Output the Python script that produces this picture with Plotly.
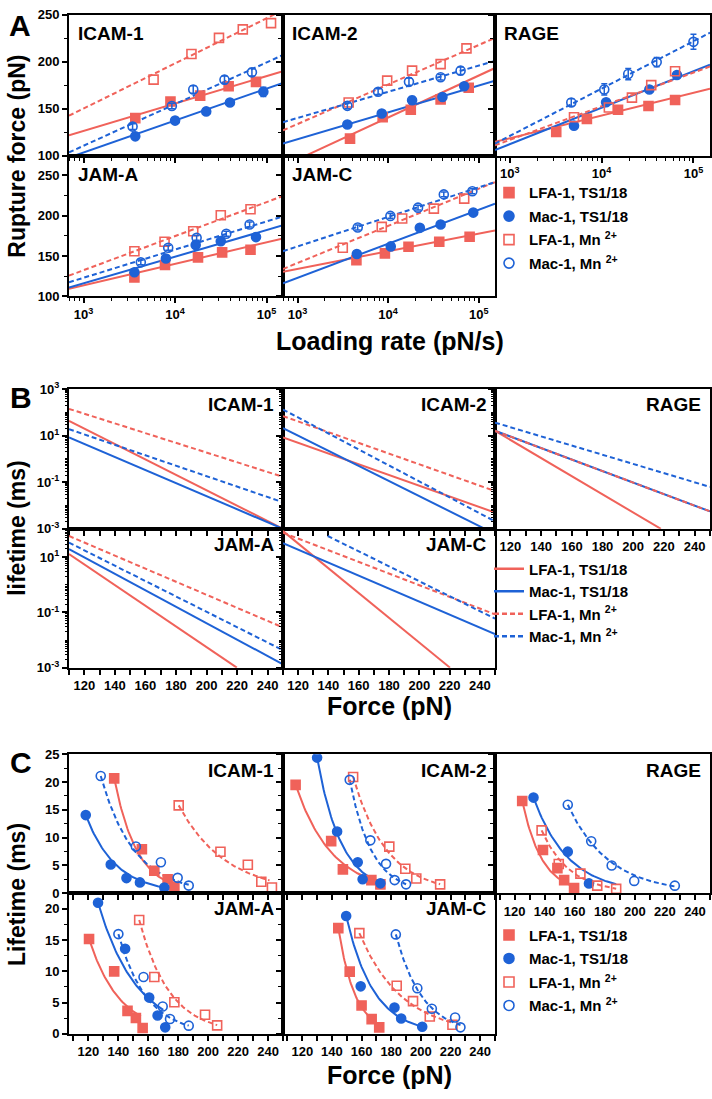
import numpy as np
import plotly.graph_objects as go

W, H = 712, 1099
RED = "#F0625A"
BLUE = "#1E62D6"
FONT = "Liberation Sans Narrow, Liberation Sans, Arial, sans-serif"

LIGANDS = ["ICAM-1", "ICAM-2", "RAGE", "JAM-A", "JAM-C"]
SERIES = ["LFA_TS", "MAC_TS", "LFA_MN", "MAC_MN"]
SERIES_NAMES = ["LFA-1, TS1/18", "Mac-1, TS1/18", "LFA-1, Mn <sup>2+</sup>", "Mac-1, Mn <sup>2+</sup>"]

# ---------------- Panel A: rupture force vs loading rate ----------------
A_RATE_LFA_TS = [[3670, 8900, 18800, 38500, 76700], [3800, 8710, 17800, 38000, 77600],
                 [3210, 6920, 15100, 32400, 63100], [3590, 7760, 17800, 32700, 66800],
                 [4470, 9220, 16800, 36700, 79400]]
A_FORCE_LFA_TS = [[140, 157.7, 164, 174, 178.7], [118.2, 141, 149, 160, 172.4],
                  [125.2, 139.2, 149, 153, 159.4], [123.4, 139, 148.4, 154.5, 157.8],
                  [144.7, 153.3, 161.5, 167.6, 173.8]]
A_RATE_MAC_TS = [[3670, 10000, 21900, 39800, 92300], [3550, 8510, 18400, 39800, 69200],
                 [5010, 11200, 33100, 66100], [3590, 7940, 16800, 31600, 76700],
                 [4520, 10700, 22400, 38000, 87100]]
A_FORCE_MAC_TS = [[120.6, 137.4, 147.2, 156.6, 168], [133.2, 145, 159, 162.6, 174],
                  [132, 157, 170.6, 186], [130, 147, 163.5, 168.4, 173.4],
                  [152.5, 161.9, 184.8, 189, 203.7]]
A_RATE_LFA_MN = [[5820, 15100, 30200, 55000, 112000], [3670, 9770, 18400, 38000, 73300],
                 [5010, 12000, 21400, 34700, 63100], [3590, 7670, 15800, 31600, 66800],
                 [3160, 8510, 14300, 32000, 69200]]
A_FORCE_LFA_MN = [[181, 208.4, 225.5, 234.6, 241.3], [156.6, 180, 190.6, 197.6, 214.3],
                  [141, 151.4, 161.9, 175.2, 190], [156, 167.6, 180.7, 200.4, 207.8],
                  [160.2, 186, 196.3, 208.6, 220.9]]
A_RATE_MAC_MN = [[3430, 9220, 15800, 34700, 69200], [3550, 7760, 17000, 38000, 63100],
                 [4680, 10700, 19500, 39800, 100000], [4220, 8410, 17200, 36300, 65300],
                 [4620, 10600, 21400, 41200, 85100]]
A_FORCE_MAC_MN = [[131, 153, 170.6, 181, 188.8], [153.1, 168.2, 178.7, 183.6, 190.6],
                  [156.6, 170.6, 187, 199.7, 221.3], [142.2, 160.2, 172.5, 177.5, 189],
                  [185.2, 199.6, 209.8, 226.2, 230]]
A_ERR_MAC_TS = [[2, 2, 3, 3, 5], [3, 3, 4, 3, 3], [3, 3, 3, 3], [2, 3, 3, 3, 3], [2, 2, 3, 3, 3]]
A_ERR_MAC_MN = [[3, 3, 4, 4, 4], [3, 3, 4, 3, 4], [4, 6, 6, 5, 8], [3, 3, 3, 3, 3], [3, 3, 3, 3, 3]]
# fitted lines: force at the low and high end of the loading-rate axis
A_FIT_RATE = [10 ** 2.84, 10 ** 5.18]
A_FIT_LFA_TS = [(121.7, 190), (88.8, 193.4), (114.7, 171.3), (109.4, 171.7), (130.7, 181.6)]
A_FIT_MAC_TS = [(98, 177.6), (113, 180), (106, 197), (111, 188), (116.4, 214.8)]
A_FIT_LFA_MN = [(142.6, 255), (127, 225.5), (111, 195), (125.8, 224.2), (134, 241.4)]
A_FIT_MAC_MN = [(103.5, 207.3), (135.7, 201), (112.9, 231), (117.6, 199), (156, 241.4)]

# ---------------- Panel B: lifetime (log) vs force, fitted lines ----------------
# (force start, lifetime start, force end, lifetime end)
B_LINE_LFA_TS = [(110, 42.7, 250, 1e-3), (110, 8.4, 250, 5.0e-3), (110, 16.1, 218, 1e-3),
                 (110, 13.1, 219.8, 1e-3), (110, 88.5, 220.3, 1e-3)]
B_LINE_MAC_TS = [(110, 8.4, 250, 1e-3), (110, 20.9, 243.3, 1e-3), (110, 16.1, 250, 5.6e-3),
                 (110, 19.8, 250, 1.32e-3), (110, 32.4, 250, 1.66e-2)]
B_LINE_LFA_MN = [(110, 141, 250, 0.17), (110, 69, 250, 0.0417), (110, 16.1, 250, 5.6e-3),
                 (110, 58.9, 250, 0.0286), (110, 77.3, 250, 0.085)]
B_LINE_MAC_MN = [(110, 18.9, 250, 0.0138), (110, 132, 250, 0.0021), (110, 36.3, 250, 0.063),
                 (110, 33.9, 250, 0.00427), (139.5, 58.9, 250, 0.060)]

# ---------------- Panel C: lifetime vs force ----------------
C_FORCE_LFA_TS = [[137.2, 155.7, 164.0, 172.9, 177.4], [115.5, 139.5, 147.4, 166.6, 172.7],
                  [125.1, 138.9, 148.5, 153.0, 159.6], [120.4, 137.2, 146.1, 151.7, 156.2],
                  [144.3, 152.0, 160.0, 166.8, 171.9]]
C_LIFE_LFA_TS = [[20.67, 7.9, 4.04, 2.5, 1.17], [19.5, 9.37, 4.27, 2.34, 1.58],
                 [16.6, 7.76, 4.5, 2.33, 0.9], [15.16, 10.0, 3.68, 2.53, 0.95],
                 [16.9, 9.95, 4.55, 2.36, 1.05]]
C_FORCE_MAC_TS = [[118.2, 134.9, 145.4, 154.4, 170.7], [130.0, 143.5, 157.4, 160.7, 172.7],
                  [132.6, 155.4, 169.5], [126.4, 144.5, 160.6, 166.2, 171.3],
                  [149.6, 159.4, 182.2, 186.7, 200.9]]
C_LIFE_MAC_TS = [[14.05, 5.15, 2.7, 1.93, 1.0], [24.4, 11.1, 5.56, 2.5, 1.76],
                 [17.2, 7.47, 1.75], [20.95, 13.6, 5.8, 2.95, 1.05],
                 [18.85, 7.6, 4.2, 2.46, 1.15]]
C_FORCE_LFA_MN = [[180.3, 208.2, 226.5, 235.5, 242.6], [154.3, 178.7, 189.5, 196.9, 213.0],
                  [138.0, 149.4, 163.8, 175.0, 187.6], [153.9, 164.0, 177.4, 197.9, 206.0],
                  [158.5, 183.7, 194.7, 206.0, 221.3]]
C_LIFE_LFA_MN = [[15.8, 7.44, 5.1, 2.05, 1.0], [20.9, 8.37, 4.4, 2.63, 1.58],
                 [11.3, 5.25, 3.5, 1.34, 0.76], [18.2, 9.1, 5.05, 3.05, 1.37],
                 [16.1, 7.7, 5.24, 2.77, 1.47]]
C_FORCE_MAC_MN = [[128.2, 151.7, 168.4, 179.6, 187.0], [152.0, 165.9, 176.5, 182.3, 190.0],
                  [155.4, 171.0, 184.6, 199.6, 226.6], [140.0, 156.8, 169.6, 174.5, 187.0],
                  [183.1, 197.6, 207.4, 223.1, 226.7]]
C_LIFE_MAC_MN = [[21.1, 8.4, 5.56, 2.75, 1.35], [20.4, 9.5, 5.27, 2.34, 1.58],
                 [15.9, 9.34, 4.96, 2.2, 1.34], [15.95, 9.1, 4.37, 2.37, 1.32],
                 [15.9, 7.3, 4.03, 2.62, 1.05]]
# single-exponential fits: (force start, lifetime start, force end, lifetime end)
C_FIT_LFA_TS = [(137.2, 20.67, 177.4, 1.5), (115.5, 19.5, 172.7, 1.9), (125.1, 16.6, 159.6, 1.2),
                (120.4, 15.16, 155.0, 2.8), (144.3, 16.9, 171.9, 1.5)]
C_FIT_MAC_TS = [(118.2, 14.05, 170.7, 1.0), (130.0, 24.4, 172.7, 1.8), (132.6, 17.2, 187.6, 1.6),
                (126.4, 20.95, 170.0, 3.84), (149.6, 18.85, 201.0, 1.15)]
C_FIT_LFA_MN = [(180.3, 15.8, 241.0, 2.3), (154.3, 20.9, 213.0, 1.6), (138.0, 11.3, 187.6, 0.8),
                (153.9, 18.2, 206.0, 1.4), (158.5, 16.1, 221.3, 1.8)]
C_FIT_MAC_MN = [(128.2, 21.1, 187.0, 1.5), (152.0, 20.4, 190.0, 1.6), (155.4, 15.9, 226.6, 1.2),
                (140.0, 15.95, 187.0, 1.32), (183.1, 15.9, 226.7, 1.4)]

# ---------------- layout geometry (pixels) ----------------
COLS = [(69, 283), (283, 495), (495, 710)]
ROWS = {"A": [(6, 149), (149, 292)], "B": [(386, 528), (528, 669)], "C": [(757, 898), (898, 1041)]}
GRID = [(0, 0), (0, 1), (0, 2), (1, 0), (1, 1)]

COLOR = {"LFA_TS": RED, "MAC_TS": BLUE, "LFA_MN": RED, "MAC_MN": BLUE}
SYMBOL = {"LFA_TS": "square", "MAC_TS": "circle", "LFA_MN": "square-open", "MAC_MN": "circle-open"}
DASH = {"LFA_TS": "solid", "MAC_TS": "solid", "LFA_MN": "5px,3px", "MAC_MN": "5px,3px"}

fig = go.Figure()
layout = {}
counter = [0]


def new_axes(panel, row, col, xcfg, ycfg):
    counter[0] += 1
    n = counter[0]
    xk = "xaxis" if n == 1 else f"xaxis{n}"
    yk = "yaxis" if n == 1 else f"yaxis{n}"
    xr = "x" if n == 1 else f"x{n}"
    yr = "y" if n == 1 else f"y{n}"
    x0, x1 = COLS[col]
    y0, y1 = ROWS[panel][row]
    base = dict(showline=True, linecolor="black", linewidth=2, mirror=True, ticks="outside",
                ticklen=5, tickwidth=1.5, tickcolor="black", showgrid=False, zeroline=False,
                tickfont=dict(family=FONT, size=13, color="black", weight="bold"))
    xd = dict(base)
    xd.update(domain=[x0 / W, x1 / W], anchor=yr)
    xd.update(xcfg)
    yd = dict(base)
    yd.update(domain=[1 - y1 / H, 1 - y0 / H], anchor=xr)
    yd.update(ycfg)
    layout[xk] = xd
    layout[yk] = yd
    return xr, yr


def ann(text, x, y, size, xanchor="center", angle=0):
    return dict(text=text, x=x / W, y=1 - y / H, xref="paper", yref="paper", showarrow=False,
                xanchor=xanchor, yanchor="middle", textangle=angle,
                font=dict(family=FONT, size=size, color="black", weight="bold"))


annotations = []

log_minor = [k * 10 ** d for d in range(-4, 6) for k in range(2, 10)]
b_minor = sorted([k * 10.0 ** d for d in range(-3, 3) for k in range(1, 10)])

# ---------------- Panel A ----------------
A_POINTS = {"LFA_TS": (A_RATE_LFA_TS, A_FORCE_LFA_TS, None),
            "MAC_TS": (A_RATE_MAC_TS, A_FORCE_MAC_TS, A_ERR_MAC_TS),
            "LFA_MN": (A_RATE_LFA_MN, A_FORCE_LFA_MN, None),
            "MAC_MN": (A_RATE_MAC_MN, A_FORCE_MAC_MN, A_ERR_MAC_MN)}
A_FITS = {"LFA_TS": A_FIT_LFA_TS, "MAC_TS": A_FIT_MAC_TS, "LFA_MN": A_FIT_LFA_MN, "MAC_MN": A_FIT_MAC_MN}

for i, lig in enumerate(LIGANDS):
    row, col = GRID[i]
    show_x = row == 1 or col == 2
    xr, yr = new_axes("A", row, col,
                      dict(type="log", range=[2.84, 5.18], tickvals=[1e3, 1e4, 1e5],
                           ticktext=["10<sup>3</sup>", "10<sup>4</sup>", "10<sup>5</sup>"],
                           showticklabels=show_x,
                           minor=dict(tickvals=log_minor, ticks="outside", ticklen=3,
                                      tickcolor="black", tickwidth=1)),
                      dict(range=[100, 250] if row == 0 else [100, 274], tickvals=[100, 150, 200, 250],
                           showticklabels=(col == 0),
                           minor=dict(dtick=25, tick0=100, ticks="outside", ticklen=3,
                                      tickcolor="black", tickwidth=1)))
    for s in SERIES:
        lo, hi = A_FITS[s][i]
        fig.add_trace(go.Scatter(x=A_FIT_RATE, y=[lo, hi], mode="lines", xaxis=xr, yaxis=yr,
                                 line=dict(color=COLOR[s], width=2, dash=DASH[s]),
                                 showlegend=False, hoverinfo="skip"))
    for s in SERIES:
        rates, forces, errs = A_POINTS[s]
        err = dict(type="data", array=errs[i], color=COLOR[s], thickness=1.5, width=3) if errs else None
        fig.add_trace(go.Scatter(x=rates[i], y=forces[i], mode="markers", xaxis=xr, yaxis=yr,
                                 marker=dict(symbol=SYMBOL[s], color=COLOR[s], size=9,
                                             line=dict(width=1.6, color=COLOR[s])),
                                 error_y=err, showlegend=False))
    annotations.append(ann(lig, COLS[col][0] + 7, ROWS["A"][row][0] + 19, 19, xanchor="left"))
    if i == 0:
        for k, s in enumerate(SERIES):
            fig.add_trace(go.Scatter(x=[None], y=[None], mode="markers", xaxis=xr, yaxis=yr,
                                     marker=dict(symbol=SYMBOL[s], color=COLOR[s], size=10,
                                                 line=dict(width=1.6, color=COLOR[s])),
                                     name=SERIES_NAMES[k], legend="legend", legendgroup="a" + s,
                                     showlegend=True))

# ---------------- Panel B ----------------
B_LINES = {"LFA_TS": B_LINE_LFA_TS, "MAC_TS": B_LINE_MAC_TS, "LFA_MN": B_LINE_LFA_MN, "MAC_MN": B_LINE_MAC_MN}
for i, lig in enumerate(LIGANDS):
    row, col = GRID[i]
    show_x = row == 1 or col == 2
    xr, yr = new_axes("B", row, col,
                      dict(range=[110, 250], tickvals=list(range(120, 241, 20)), showticklabels=show_x,
                           minor=dict(dtick=10, tick0=110, ticks="outside", ticklen=5,
                                      tickcolor="black", tickwidth=1.5)),
                      dict(type="log", range=[-3, 3] if row == 0 else [-3, 2.03],
                           tickvals=[1e-3, 1e-1, 1e1, 1e3],
                           ticktext=["10<sup>-3</sup>", "10<sup>-1</sup>", "10<sup>1</sup>", "10<sup>3</sup>"],
                           showticklabels=(col == 0),
                           minor=dict(tickvals=b_minor, ticks="outside", ticklen=2.5,
                                      tickcolor="black", tickwidth=1)))
    order = ["LFA_TS", "MAC_TS", "LFA_MN", "MAC_MN"] if lig != "RAGE" else ["LFA_TS", "MAC_TS", "MAC_MN", "LFA_MN"]
    for s in order:
        f0, t0, f1, t1 = B_LINES[s][i]
        fig.add_trace(go.Scatter(x=[f0, f1], y=[t0, t1], mode="lines", xaxis=xr, yaxis=yr,
                                 line=dict(color=COLOR[s], width=2, dash=DASH[s]),
                                 showlegend=False, hoverinfo="skip"))
    annotations.append(ann(lig, COLS[col][1] - 7, ROWS["B"][row][0] + 16, 19, xanchor="right"))
    if i == 0:
        for k, s in enumerate(SERIES):
            fig.add_trace(go.Scatter(x=[None], y=[None], mode="lines", xaxis=xr, yaxis=yr,
                                     line=dict(color=COLOR[s], width=2.5, dash=DASH[s]),
                                     name=SERIES_NAMES[k], legend="legend2", legendgroup="b" + s,
                                     showlegend=True))

# ---------------- Panel C ----------------
C_POINTS = {"LFA_TS": (C_FORCE_LFA_TS, C_LIFE_LFA_TS), "MAC_TS": (C_FORCE_MAC_TS, C_LIFE_MAC_TS),
            "LFA_MN": (C_FORCE_LFA_MN, C_LIFE_LFA_MN), "MAC_MN": (C_FORCE_MAC_MN, C_LIFE_MAC_MN)}
C_FITS = {"LFA_TS": C_FIT_LFA_TS, "MAC_TS": C_FIT_MAC_TS, "LFA_MN": C_FIT_LFA_MN, "MAC_MN": C_FIT_MAC_MN}
for i, lig in enumerate(LIGANDS):
    row, col = GRID[i]
    show_x = row == 1 or col == 2
    xr, yr = new_axes("C", row, col,
                      dict(range=[107, 250], tickvals=list(range(120, 241, 20)), showticklabels=show_x,
                           minor=dict(dtick=10, tick0=110, ticks="outside", ticklen=5,
                                      tickcolor="black", tickwidth=1.5)),
                      dict(range=[0, 25] if row == 0 else [0, 22.5], tickvals=[0, 5, 10, 15, 20, 25],
                           showticklabels=(col == 0),
                           minor=dict(dtick=2.5, tick0=0, ticks="outside", ticklen=3,
                                      tickcolor="black", tickwidth=1)))
    for s in SERIES:
        fa, ta, fb, tb = C_FITS[s][i]
        ff = np.linspace(fa, fb, 60)
        tt = ta * (tb / ta) ** ((ff - fa) / (fb - fa))  # Bell-model exponential fit
        fig.add_trace(go.Scatter(x=ff, y=tt, mode="lines", xaxis=xr, yaxis=yr,
                                 line=dict(color=COLOR[s], width=2, dash=DASH[s]),
                                 showlegend=False, hoverinfo="skip"))
    for s in SERIES:
        fs, ts = C_POINTS[s]
        fig.add_trace(go.Scatter(x=fs[i], y=ts[i], mode="markers", xaxis=xr, yaxis=yr,
                                 marker=dict(symbol=SYMBOL[s], color=COLOR[s], size=9,
                                             line=dict(width=1.6, color=COLOR[s])),
                                 showlegend=False))
    annotations.append(ann(lig, COLS[col][1] - 7, ROWS["C"][row][0] + 16, 19, xanchor="right"))
    if i == 0:
        for k, s in enumerate(SERIES):
            fig.add_trace(go.Scatter(x=[None], y=[None], mode="markers", xaxis=xr, yaxis=yr,
                                     marker=dict(symbol=SYMBOL[s], color=COLOR[s], size=10,
                                                 line=dict(width=1.6, color=COLOR[s])),
                                     name=SERIES_NAMES[k], legend="legend3", legendgroup="c" + s,
                                     showlegend=True))

# ---------------- texts ----------------
annotations += [
    ann("A", 20, 17, 30), ann("B", 21, 395, 30), ann("C", 21, 765, 30),
    ann("Rupture force (pN)", 17, 150, 23, angle=-90),
    ann("Loading rate (pN/s)", 390, 337, 25),
    ann("lifetime (ms)", 17, 528, 23, angle=-90),
    ann("Force (pN)", 390, 708, 25),
    ann("Lifetime (ms)", 17, 900, 23, angle=-90),
    ann("Force (pN)", 390, 1083, 25),
]


def legend_cfg(top, gap):
    return dict(x=489 / W, y=1 - top / H, xanchor="left", yanchor="top", bgcolor="rgba(0,0,0,0)",
                font=dict(family=FONT, size=15, color="black", weight="bold"),
                tracegroupgap=gap, itemwidth=30)


layout.update(
    width=W, height=H, margin=dict(l=0, r=0, t=0, b=0),
    paper_bgcolor="white", plot_bgcolor="white",
    font=dict(family=FONT, color="black"),
    annotations=annotations,
    legend=legend_cfg(170, 1), legend2=legend_cfg(552, 0), legend3=legend_cfg(924, 1),
    showlegend=True,
)
fig.update_layout(**layout)
fig.write_html("out.html", config={"displayModeBar": False},
               post_script="document.body.style.margin='0px';")
